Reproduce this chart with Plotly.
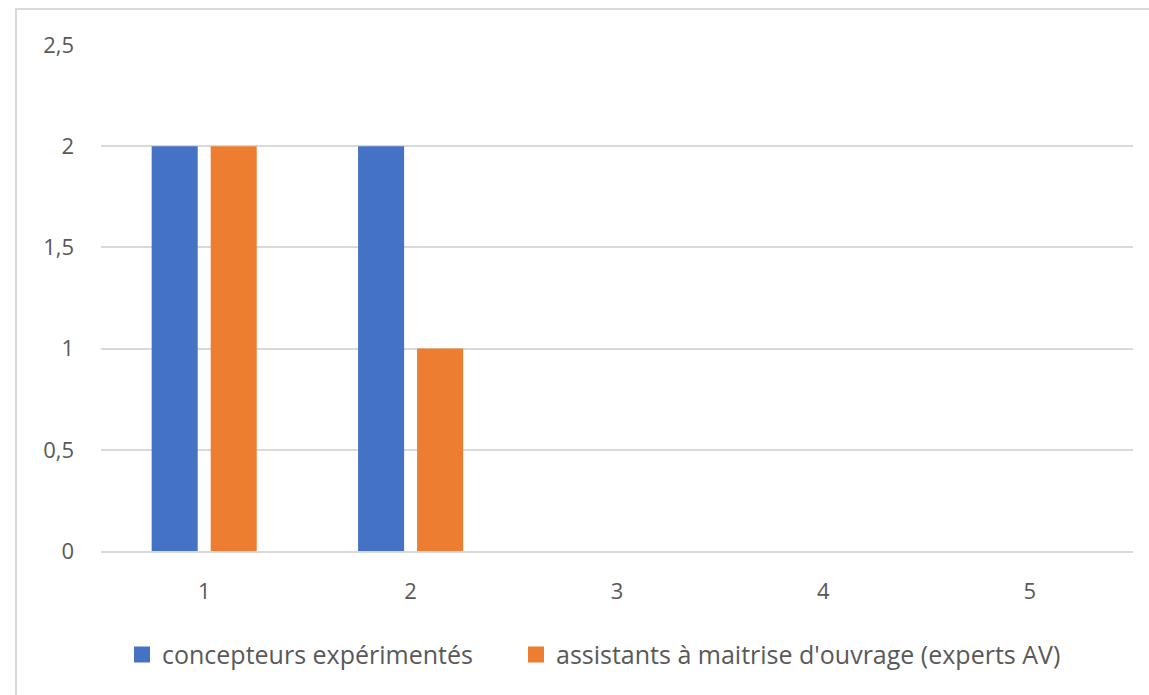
import plotly.graph_objects as go

categories = ["1", "2", "3", "4", "5"]
concepteurs = [2, 2, 0, 0, 0]
assistants = [2, 1, 0, 0, 0]
series_names = ["concepteurs expérimentés", "assistants à maitrise d'ouvrage (experts AV)"]
series_colors = ["#4472C4", "#ED7D31"]
y_ticks = [0, 0.5, 1, 1.5, 2, 2.5]

W, H = 1149, 695
L, R, T, B = 101, 16, 45, 144
pw, ph = W - L - R, H - T - B

fig = go.Figure()
for vals, name, color in zip([concepteurs, assistants], series_names, series_colors):
    fig.add_trace(go.Bar(x=categories, y=vals, name=name, showlegend=False,
                         marker=dict(color=color, line=dict(width=0))))

# legend entries with larger square keys, one legend box per series
legend_ids = ["legend", "legend2"]
for name, color, lg in zip(series_names, series_colors, legend_ids):
    fig.add_trace(go.Scatter(x=[None], y=[None], mode="markers", name=name, legend=lg,
                             marker=dict(symbol="square", size=18, color=color)))

# outer chart frame
fig.add_shape(type="rect", xref="paper", yref="paper",
              x0=(16 - L) / pw, x1=(W + 20 - L) / pw,
              y0=-(H + 20 - T - ph) / ph, y1=(ph + T - 9) / ph,
              line=dict(color="#D9D9D9", width=2), fillcolor="rgba(0,0,0,0)", layer="below")

legend_style = dict(orientation="h", xanchor="left", y=-0.205, yanchor="middle",
                    font=dict(size=25, color="#595959"), itemwidth=30, itemsizing="trace",
                    bgcolor="rgba(0,0,0,0)")

fig.update_layout(
    width=W, height=H,
    margin=dict(l=L, r=R, t=T, b=B),
    paper_bgcolor="white", plot_bgcolor="white",
    separators=", ",
    barmode="group", bargap=0.428, bargroupgap=0.22,
    font=dict(family="Open Sans, Noto Sans, sans-serif", color="#595959", size=22),
    showlegend=True,
    legend=dict(x=(122 - L) / pw, **legend_style),
    legend2=dict(x=(516 - L) / pw, **legend_style),
    xaxis=dict(showgrid=False, showline=True, linecolor="#D9D9D9", linewidth=2,
               ticks="", ticklabelstandoff=20, tickfont=dict(size=22)),
    yaxis=dict(range=[0, 2.5], tickvals=y_ticks, showgrid=True, gridcolor="#D9D9D9",
               gridwidth=2, zeroline=False, showline=False, ticks="",
               ticklabelstandoff=26, tickfont=dict(size=22)),
)

fig.write_html("out.html")
